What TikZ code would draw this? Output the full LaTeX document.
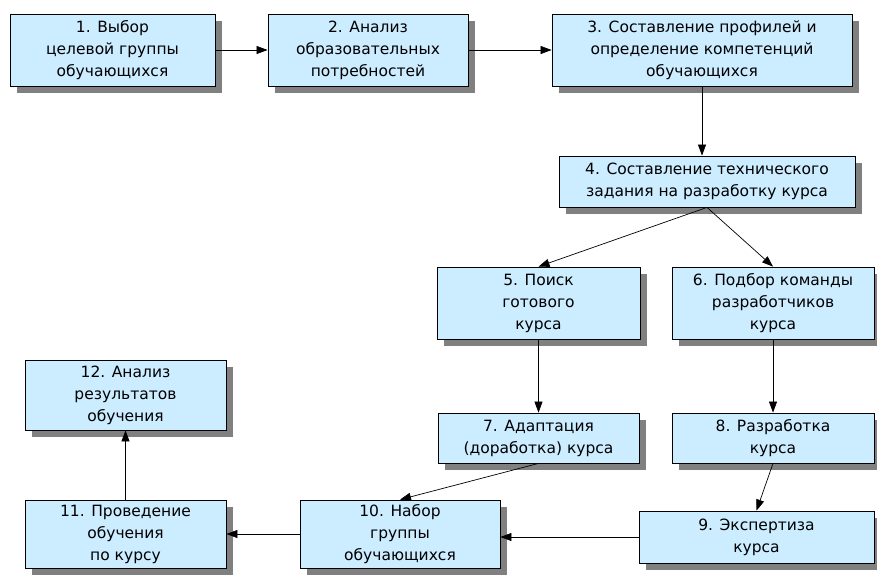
\documentclass[tikz,border=0pt]{standalone}
\usepackage{fontspec}
\setmainfont{DejaVu Sans}
\usetikzlibrary{arrows.meta,shadows,calc}
\definecolor{boxblue}{HTML}{CCECFF}
\definecolor{shadowgray}{HTML}{808080}
\tikzset{
  stepbox/.style={draw=black, line width=0.8pt, fill=boxblue, align=center,
    inner sep=0pt, font=\fontsize{15.5}{22}\selectfont,
    drop shadow={fill=shadowgray, opacity=1, shadow xshift=7pt, shadow yshift=-7pt}},
  flow/.style={draw=black, line width=0.7pt, -{Triangle[length=11pt,width=8pt]}}
}
\begin{document}
\begin{tikzpicture}[x=1pt,y=-1pt]
\useasboundingbox (0,0) rectangle (877,574);
\node[stepbox, minimum width=205pt, minimum height=72pt] (b1) at (112.5,50) {1. Выбор\\целевой группы\\обучающихся};
\node[stepbox, minimum width=200pt, minimum height=72pt] (b2) at (368,50) {2. Анализ\\образовательных\\потребностей};
\node[stepbox, minimum width=300pt, minimum height=72pt] (b3) at (702,50) {3. Составление профилей и\\определение компетенций\\обучающихся};
\node[stepbox, minimum width=296pt, minimum height=51pt] (b4) at (707,181.5) {4. Составление технического\\задания на разработку курса};
\node[stepbox, minimum width=203pt, minimum height=72pt] (b5) at (538.5,303) {5. Поиск\\готового\\курса};
\node[stepbox, minimum width=202pt, minimum height=72pt] (b6) at (773,303) {6. Подбор команды\\разработчиков\\курса};
\node[stepbox, minimum width=201pt, minimum height=50pt] (b7) at (538.5,438) {7. Адаптация\\(доработка) курса};
\node[stepbox, minimum width=202pt, minimum height=50pt] (b8) at (773,438) {8. Разработка\\курса};
\node[stepbox, minimum width=235pt, minimum height=52pt] (b9) at (756.5,537) {9. Экспертиза\\курса};
\node[stepbox, minimum width=200pt, minimum height=68pt] (b10) at (400,534) {10. Набор\\группы\\обучающихся};
\node[stepbox, minimum width=201pt, minimum height=68pt] (b11) at (125.5,534) {11. Проведение\\обучения\\по курсу};
\node[stepbox, minimum width=201pt, minimum height=70pt] (b12) at (125.5,395) {12. Анализ\\результатов\\обучения};
\draw[flow] (b1.east) -- (b2.west);
\draw[flow] (b2.east) -- (b3.west);
\draw[flow] (b3.south) -- (b3.south |- b4.north);
\draw[flow] (b4.south) -- (b5.north);
\draw[flow] (b4.south) -- (b6.north);
\draw[flow] (b5.south) -- (b7.north);
\draw[flow] (b6.south) -- (b8.north);
\draw[flow] (b7.south) -- (b10.north);
\draw[flow] (b8.south) -- (b9.north);
\draw[flow] (b9.west) -- (b9.west -| b10.east);
\draw[flow] (b10.west) -- (b11.east);
\draw[flow] (b11.north) -- (b12.south);
\end{tikzpicture}
\end{document}
